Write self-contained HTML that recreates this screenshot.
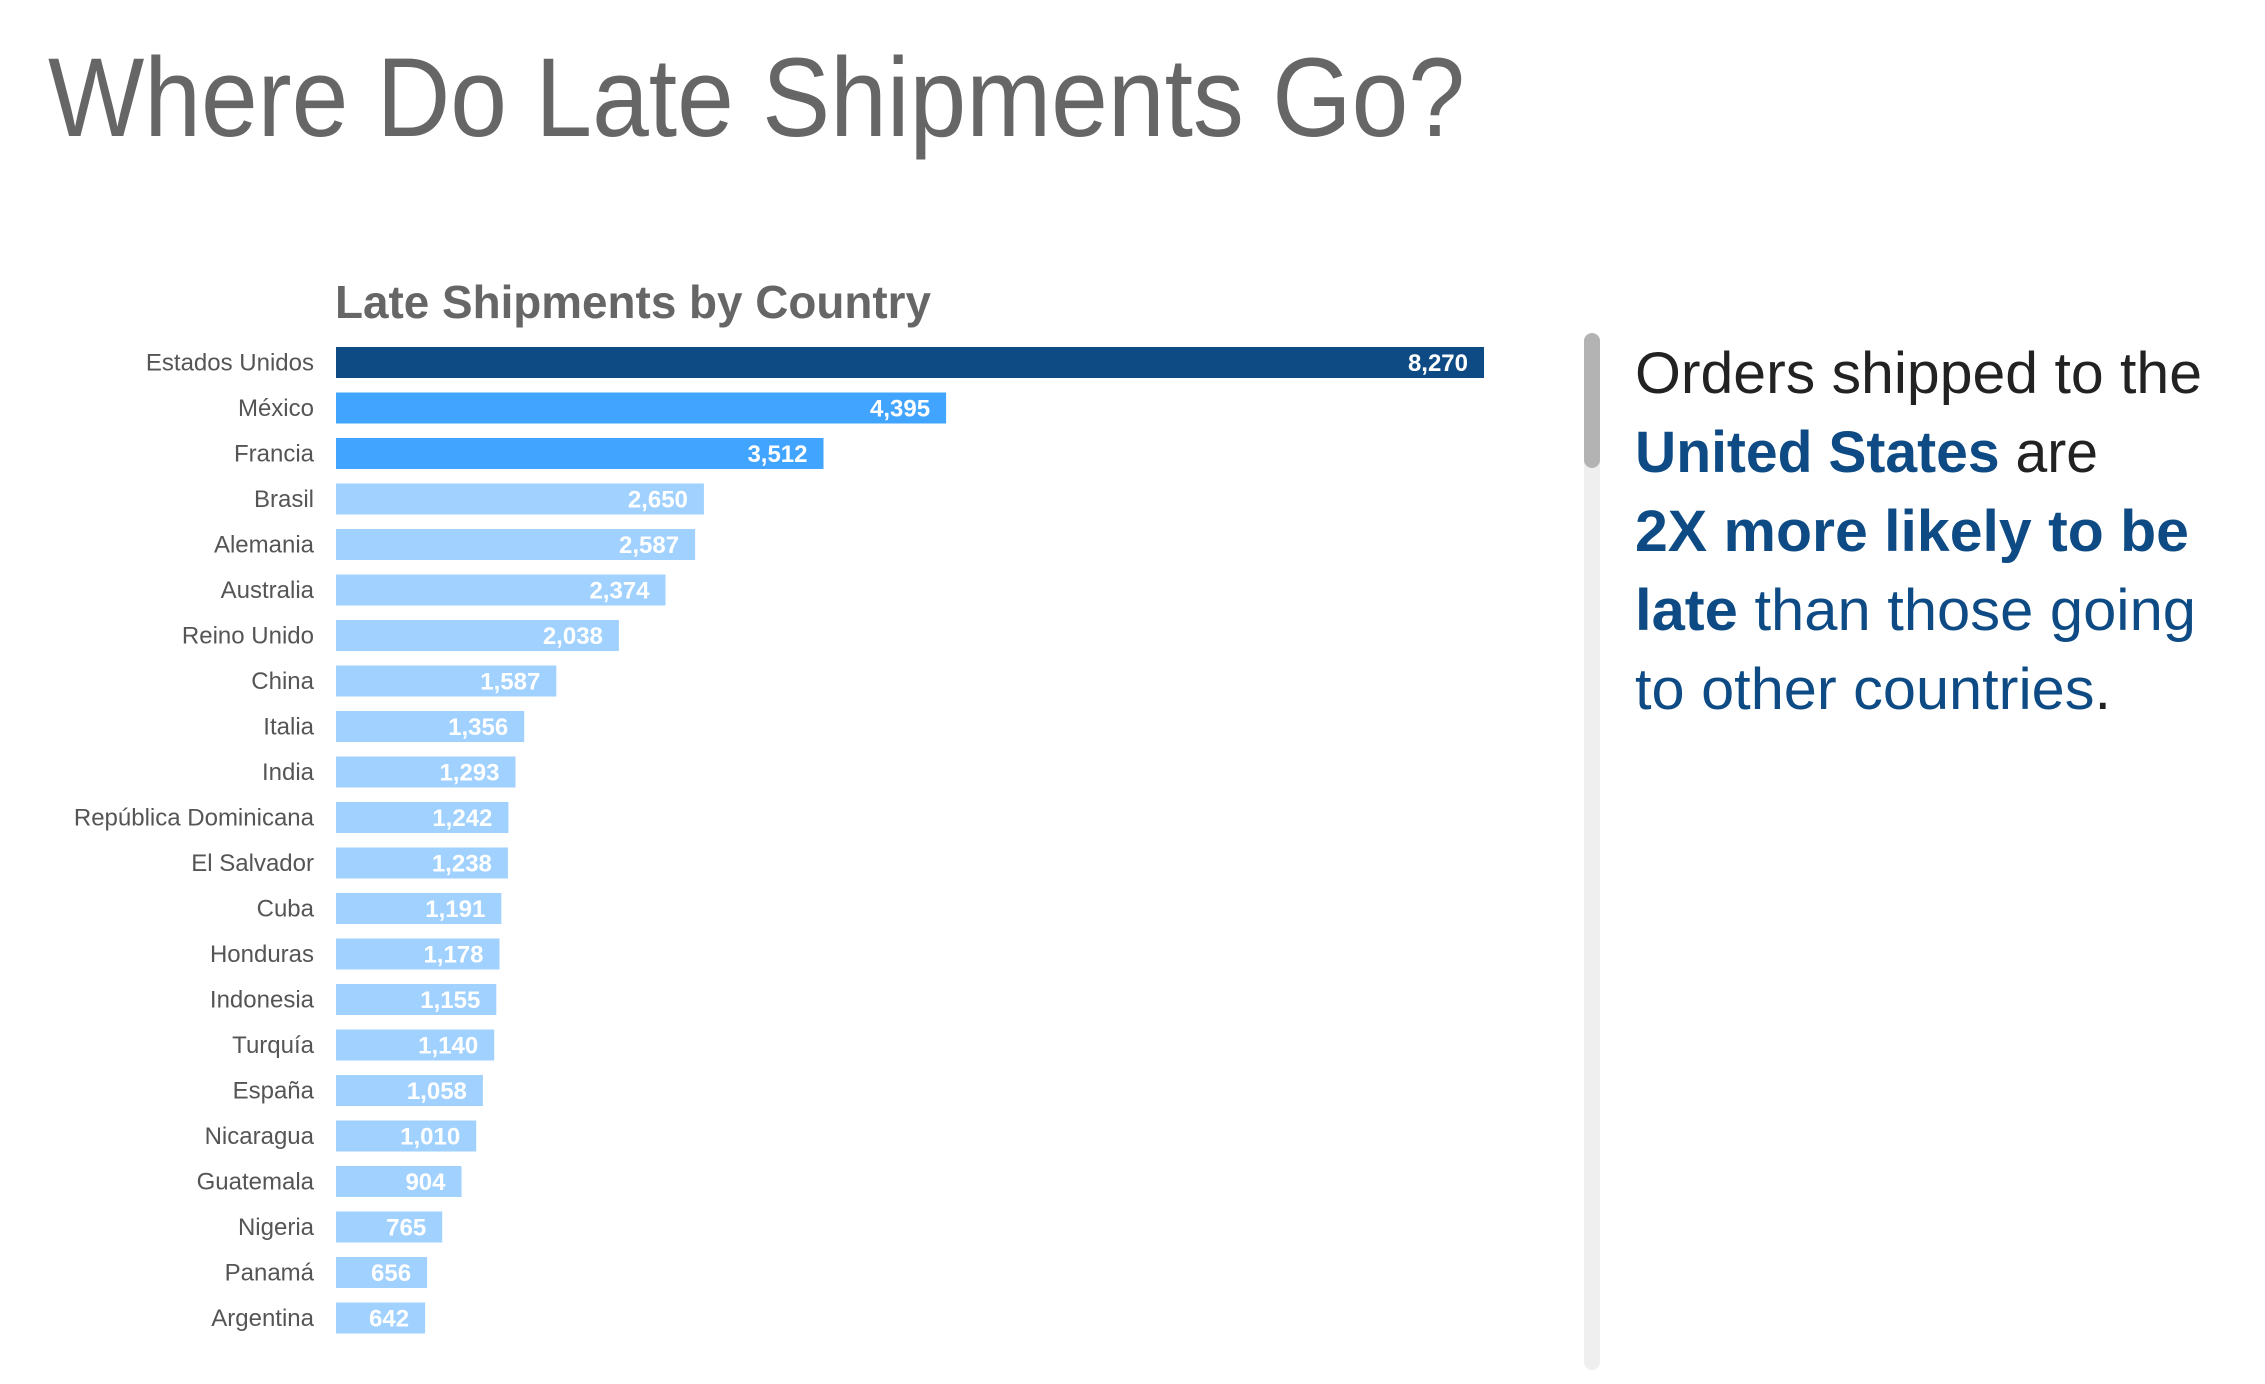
<!DOCTYPE html>
<html><head><meta charset="utf-8"><style>
html,body{margin:0;padding:0;background:#fff;}
svg{display:block;}
</style></head><body>
<svg width="2265" height="1384" viewBox="0 0 2265 1384" xmlns="http://www.w3.org/2000/svg" font-family="'Liberation Sans', sans-serif">
<text x="48" y="136" font-size="112" fill="#666" textLength="1417" lengthAdjust="spacingAndGlyphs">Where Do Late Shipments Go?</text>
<text x="335" y="318" font-size="46" font-weight="bold" fill="#666" textLength="596" lengthAdjust="spacingAndGlyphs">Late Shipments by Country</text>
<g id="bars" font-size="24">
</g>
<rect x="1584" y="333" width="16" height="1037" rx="8" fill="#efefef"/>
<rect x="1584" y="333" width="16" height="135" rx="8" fill="#b3b3b3"/>
<g font-size="58">
<text x="1635" y="393" fill="#222" textLength="567" lengthAdjust="spacingAndGlyphs">Orders shipped to the</text>
<text x="1635" y="472" textLength="463" lengthAdjust="spacingAndGlyphs"><tspan fill="#0E4B84" font-weight="bold">United States</tspan><tspan fill="#222"> are</tspan></text>
<text x="1635" y="551" fill="#0E4B84" font-weight="bold" textLength="554" lengthAdjust="spacingAndGlyphs">2X more likely to be</text>
<text x="1635" y="630" fill="#0E4B84" textLength="561" lengthAdjust="spacingAndGlyphs"><tspan font-weight="bold">late</tspan> than those going</text>
<text x="1635" y="709" fill="#0E4B84" textLength="476" lengthAdjust="spacingAndGlyphs">to other countries<tspan fill="#222">.</tspan></text>
</g>
</svg>
<script>
(function(){
var names=["Estados Unidos","México","Francia","Brasil","Alemania","Australia","Reino Unido","China","Italia","India","República Dominicana","El Salvador","Cuba","Honduras","Indonesia","Turquía","España","Nicaragua","Guatemala","Nigeria","Panamá","Argentina"];
var vals=[8270,4395,3512,2650,2587,2374,2038,1587,1356,1293,1242,1238,1191,1178,1155,1140,1058,1010,904,765,656,642];
var g=document.getElementById("bars"),h="";
for(var i=0;i<names.length;i++){
 var y0=347+i*45.5, w=vals[i]*1148/8270;
 var c=i==0?"#0E4B84":(i<3?"#41A4FF":"#A0D1FF");
 var cy=y0+15.5;
 h+='<rect x="336" y="'+y0+'" width="'+w.toFixed(1)+'" height="31" fill="'+c+'"/>';
 h+='<text x="314" y="'+(cy+8)+'" text-anchor="end" fill="#555">'+names[i]+'</text>';
 h+='<text x="'+(336+w-16).toFixed(1)+'" y="'+(cy+8.5)+'" text-anchor="end" fill="#fff" font-weight="bold">'+vals[i].toLocaleString("en-US")+'</text>';
}
g.innerHTML=h;
})();
</script>
</body></html>
